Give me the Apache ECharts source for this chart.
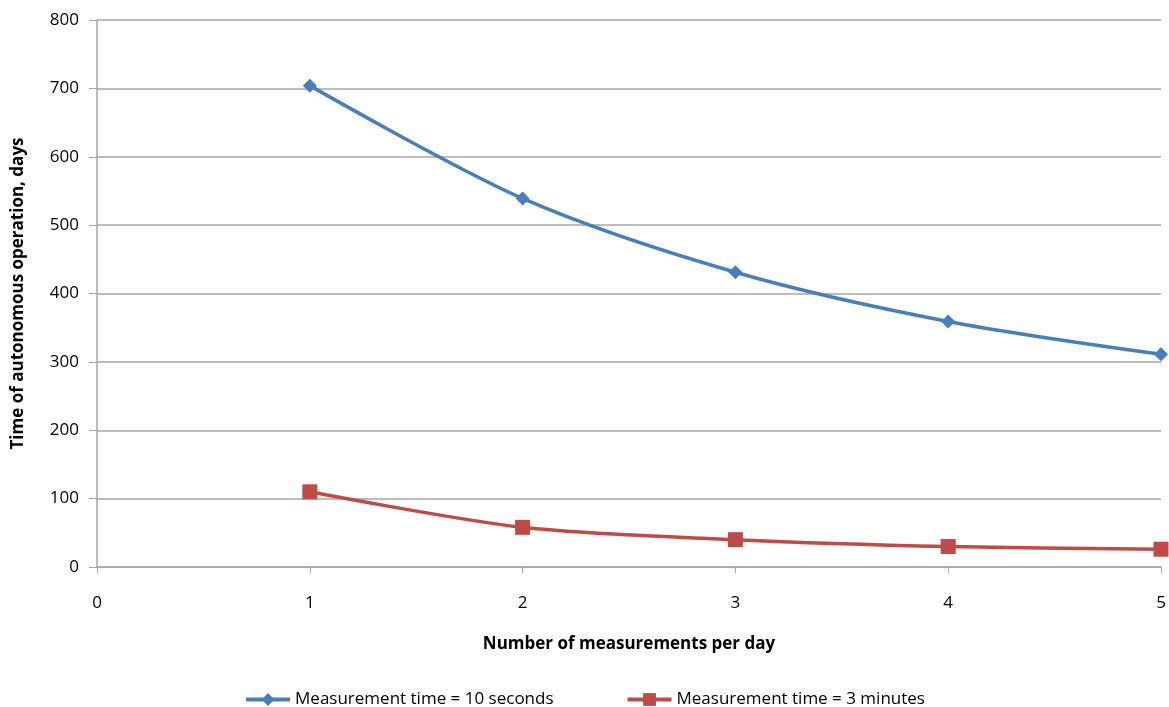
<!DOCTYPE html>
<html>
<head>
<meta charset="utf-8">
<script src="https://cdn.jsdelivr.net/npm/echarts@6/dist/echarts.min.js"></script>
<style>
  html, body { margin: 0; padding: 0; background: #fff; }
  #main { width: 1169px; height: 707px; }
</style>
</head>
<body>
<div id="main"></div>
<script>
// values
const measurements = [1, 2, 3, 4, 5]
const days10s = [704, 539, 431, 359, 311]
const days3min = [110, 58, 40, 30, 26]
const seriesNames = ['Measurement time = 10 seconds', 'Measurement time = 3 minutes']

const font = '"Open Sans", "Liberation Sans", sans-serif'
const gridColor = '#a6a6a6'

let myChart = echarts.init(document.getElementById('main'))
const option = {
  animation: false,
  color: ['#4a7ebb', '#be4b48'],
  grid: { left: 97, right: 8, top: 20, bottom: 140 },
  legend: {
    data: seriesNames,
    top: 686,
    left: 'center',
    itemGap: 72,
    itemWidth: 44,
    itemHeight: 16,
    lineStyle: { width: 4 },
    textStyle: { fontFamily: font, fontSize: 17, color: '#000' },
  },
  xAxis: {
    type: 'value',
    min: 0,
    max: 5,
    interval: 1,
    name: 'Number of measurements per day',
    nameLocation: 'middle',
    nameGap: 69,
    nameTextStyle: { fontFamily: font, fontSize: 17, fontWeight: 'bold', color: '#000' },
    axisLine: { show: true, lineStyle: { color: gridColor, width: 1.5 } },
    axisTick: { show: true, length: 6, inside: false, lineStyle: { color: gridColor } },
    axisLabel: { fontFamily: font, fontSize: 17, color: '#000', margin: 28 },
    splitLine: { show: false },
  },
  yAxis: {
    type: 'value',
    min: 0,
    max: 800,
    interval: 100,
    name: 'Time of autonomous operation, days',
    nameLocation: 'middle',
    nameGap: 70,
    nameTextStyle: { fontFamily: font, fontSize: 17, fontWeight: 'bold', color: '#000' },
    axisLine: { show: true, lineStyle: { color: gridColor, width: 1.5 } },
    axisTick: { show: true, length: 8, lineStyle: { color: gridColor } },
    axisLabel: { fontFamily: font, fontSize: 17, color: '#000', margin: 18 },
    splitLine: { show: true, lineStyle: { color: gridColor, width: 1.5 } },
  },
  series: [
    {
      name: seriesNames[0],
      type: 'line',
      smooth: 0.3,
      data: measurements.map((m, i) => [m, days10s[i]]),
      symbol: 'diamond',
      symbolSize: 14,
      lineStyle: { width: 3.5 },
    },
    {
      name: seriesNames[1],
      type: 'line',
      smooth: 0.3,
      data: measurements.map((m, i) => [m, days3min[i]]),
      symbol: 'rect',
      symbolSize: 15,
      lineStyle: { width: 3.5 },
    },
  ],
}
myChart.setOption(option, true)
</script>
</body>
</html>
